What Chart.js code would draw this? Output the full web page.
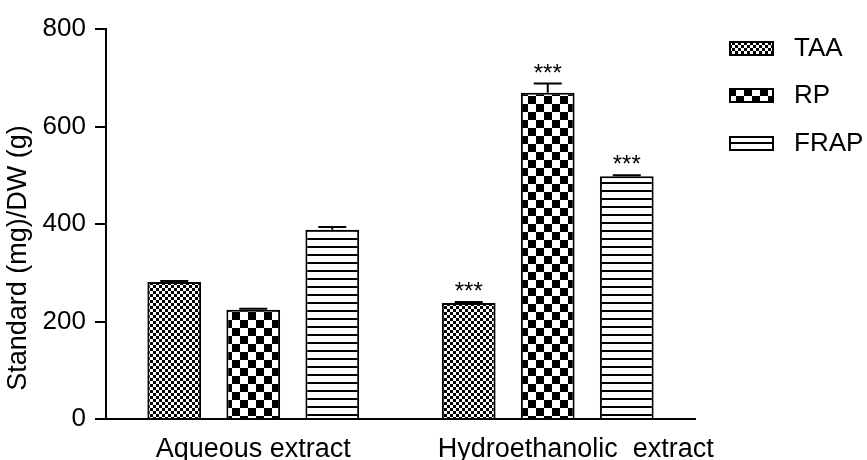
<!DOCTYPE html>
<html>
<head>
<meta charset="utf-8">
<script src="https://cdn.jsdelivr.net/npm/chart.js@4.4.1/dist/chart.umd.min.js"></script>
<style>
  html, body { margin: 0; padding: 0; background: #fff; }
  #wrap { width: 867px; height: 460px; }
</style>
</head>
<body>
<div id="wrap"><canvas id="chBars"></canvas></div>
<script>
var categories = ['Aqueous extract', 'Hydroethanolic  extract'];
var seriesNames = ['TAA', 'RP', 'FRAP'];
var taaValues = [281, 238];
var rpValues = [224, 669];
var frapValues = [388, 498];
var taaErrors = [2, 2];
var rpErrors = [2, 19];
var frapErrors = [6, 2];
var significance = [['', '***'], ['', '***'], ['', '***']];
var yTicks = [0, 200, 400, 600, 800];

var FONT = '"Liberation Sans", Arial, sans-serif';

function makePattern(w, h, paint) {
    var c = document.createElement('canvas');
    c.width = w; c.height = h;
    var g = c.getContext('2d');
    g.fillStyle = '#fff';
    g.fillRect(0, 0, w, h);
    g.fillStyle = '#000';
    paint(g);
    return document.getElementById('chBars').getContext('2d').createPattern(c, 'repeat');
}
// fine checker, coarse checker, horizontal lines
var patTAA = makePattern(6, 6, function(g){ g.fillRect(0,0,3,3); g.fillRect(3,3,3,3); });
var patRP = makePattern(16, 16, function(g){ g.fillRect(0,0,8,8); g.fillRect(8,8,8,8); });
var patFRAP = makePattern(8, 8, function(g){ g.fillRect(0,6,8,2); });
var patterns = [patTAA, patRP, patFRAP];
var errors = [taaErrors, rpErrors, frapErrors];

var extrasPlugin = {
    id: 'extras',
    afterDatasetsDraw: function(chart) {
        var ctx = chart.ctx;
        var y = chart.scales.y;
        ctx.save();
        ctx.strokeStyle = '#000';
        ctx.lineWidth = 2;
        chart.data.datasets.forEach(function(ds, di) {
            var meta = chart.getDatasetMeta(di);
            meta.data.forEach(function(bar, i) {
                var v = ds.data[i];
                var top = y.getPixelForValue(v + errors[di][i]);
                ctx.beginPath();
                ctx.moveTo(bar.x, bar.y);
                ctx.lineTo(bar.x, top);
                ctx.moveTo(bar.x - 14, top);
                ctx.lineTo(bar.x + 14, top);
                ctx.stroke();
                if (significance[di][i]) {
                    ctx.fillStyle = '#000';
                    ctx.font = '24px ' + FONT;
                    ctx.textAlign = 'center';
                    ctx.textBaseline = 'alphabetic';
                    ctx.fillText(significance[di][i], bar.x, top - 3);
                }
            });
        });
        ctx.restore();
    },
    afterDraw: function(chart) {
        var ctx = chart.ctx;
        var x = chart.scales.x;
        ctx.save();
        ctx.fillStyle = '#000';
        // category labels
        ctx.font = '27px ' + FONT;
        ctx.textAlign = 'center';
        ctx.textBaseline = 'alphabetic';
        var shift = [0, 28];
        categories.forEach(function(c, i) {
            ctx.fillText(c, x.getPixelForValue(i) + shift[i], 457);
        });
        // y title
        ctx.save();
        ctx.translate(19, 258);
        ctx.rotate(-Math.PI / 2);
        ctx.textBaseline = 'middle';
        ctx.font = '27px ' + FONT;
        ctx.fillText('Standard (mg)/DW (g)', 0, 0);
        ctx.restore();
        // legend
        var rows = [48, 95, 143];
        seriesNames.forEach(function(n, i) {
            ctx.fillStyle = patterns[i];
            ctx.fillRect(730, rows[i] - 6, 43, 13);
            ctx.strokeStyle = '#000';
            ctx.lineWidth = 2;
            ctx.strokeRect(730, rows[i] - 6, 43, 13);
            ctx.fillStyle = '#000';
            ctx.font = '26px ' + FONT;
            ctx.textAlign = 'left';
            ctx.textBaseline = 'middle';
            ctx.fillText(n, 794, rows[i] + 1);
        });
        ctx.restore();
    }
};

var chartData = {
    labels: categories,
    datasets: [
        { label: seriesNames[0], data: taaValues, backgroundColor: patTAA },
        { label: seriesNames[1], data: rpValues, backgroundColor: patRP },
        { label: seriesNames[2], data: frapValues, backgroundColor: patFRAP }
    ]
};
chartData.datasets.forEach(function(ds){
    ds.borderColor = '#000';
    ds.borderWidth = 2;
    ds.categoryPercentage = 0.805;
    ds.barPercentage = 0.68;
});

new Chart(document.getElementById('chBars'), {
    type: 'bar',
    data: chartData,
    options: {
        responsive: true,
        maintainAspectRatio: false,
        animation: false,
        layout: { padding: { top: 29, right: 172, left: 0, bottom: 0 } },
        plugins: { legend: { display: false }, tooltip: { enabled: false } },
        scales: {
            x: {
                grid: { display: false },
                border: { color: '#000', width: 2 },
                ticks: { display: false },
                afterFit: function(s) { s.height = 41; }
            },
            y: {
                min: 0, max: 800,
                afterBuildTicks: function(s) { s.ticks = yTicks.map(function(v){ return { value: v }; }); },
                grid: { display: true, drawOnChartArea: false, drawTicks: true, tickLength: 11, color: '#000', lineWidth: 2 },
                border: { color: '#000', width: 2 },
                ticks: { color: '#000', padding: 9, font: { family: FONT, size: 26 } },
                afterFit: function(s) { s.width = 106; }
            }
        }
    },
    plugins: [extrasPlugin]
});
</script>
</body>
</html>
